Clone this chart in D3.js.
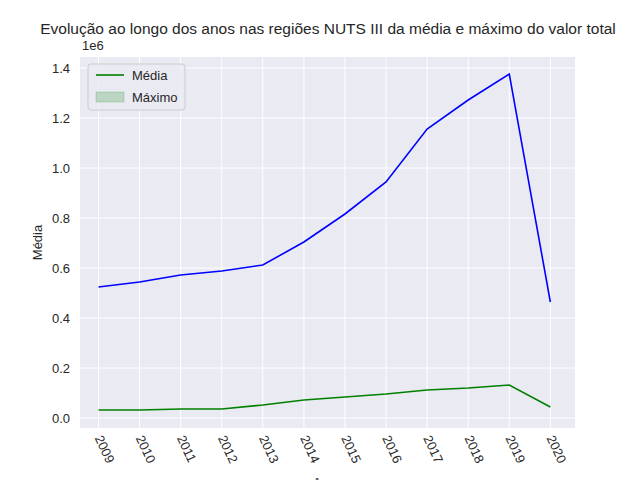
<!DOCTYPE html>
<html><head><meta charset="utf-8">
<script src="https://cdn.jsdelivr.net/npm/d3@7"></script>
<style>body{margin:0;background:#fff}text{font-family:"Liberation Sans",Arial,sans-serif;fill:#262626}</style>
</head><body><div id="chart"></div>
<script>
var anos = [2009,2010,2011,2012,2013,2014,2015,2016,2017,2018,2019,2020];
var maximo = [0.524,0.544,0.572,0.588,0.612,0.704,0.816,0.944,1.156,1.272,1.376,0.464];
var media = [0.032,0.032,0.036,0.036,0.052,0.072,0.084,0.096,0.112,0.120,0.132,0.044];
var yTicks = [0,0.2,0.4,0.6,0.8,1.0,1.2,1.4];

var w = 640, h = 480;
var m = {l: 80, r: 65, t: 57, b: 52};
var svg = d3.select("#chart").append("svg").attr("width", w).attr("height", h);

var x = d3.scaleLinear().domain([2008.55, 2020.6]).range([m.l, w - m.r]);
var y = d3.scaleLinear().domain([-0.04, 1.444]).range([h - m.b, m.t]);

svg.append("rect").attr("x", m.l).attr("y", m.t)
  .attr("width", w - m.l - m.r).attr("height", h - m.t - m.b).attr("fill", "#eaeaf2");

svg.selectAll(".gx").data(anos).enter().append("line")
  .attr("x1", d => x(d)).attr("x2", d => x(d)).attr("y1", m.t).attr("y2", h - m.b)
  .attr("stroke", "#fff");
svg.selectAll(".gy").data(yTicks).enter().append("line")
  .attr("y1", d => y(d)).attr("y2", d => y(d)).attr("x1", m.l).attr("x2", w - m.r)
  .attr("stroke", "#fff");

svg.selectAll(".yl").data(yTicks).enter().append("text")
  .attr("x", m.l - 10).attr("y", d => y(d)).attr("dy", "0.35em")
  .attr("text-anchor", "end").style("font-size", "13px").text(d => d.toFixed(1));

svg.selectAll(".xl").data(anos).enter().append("text")
  .attr("transform", d => "translate(" + (x(d) - 4) + "," + (h - m.b + 10) + ") rotate(65)")
  .style("font-size", "13px").text(d => d);

svg.append("text").attr("x", m.l + 2).attr("y", m.t - 7).style("font-size", "13px").text("1e6");
svg.append("text").attr("transform", "translate(42," + ((m.t + h - m.b) / 2) + ") rotate(-90)")
  .attr("text-anchor", "middle").style("font-size", "13px").text("Média");
svg.append("text").attr("x", (m.l + w - m.r) / 2).attr("y", 487).attr("text-anchor", "middle")
  .style("font-size", "13px").text("Anos");
svg.append("text").attr("x", 328).attr("y", 34).attr("text-anchor", "middle")
  .style("font-size", "15.5px").text("Evolução ao longo dos anos nas regiões NUTS III da média e máximo do valor total");

var line = d3.line().x((d, i) => x(anos[i])).y(d => y(d));
svg.append("path").datum(maximo).attr("d", line).attr("fill", "none").attr("stroke", "blue").attr("stroke-width", 1.6);
svg.append("path").datum(media).attr("d", line).attr("fill", "none").attr("stroke", "green").attr("stroke-width", 1.6);

var lg = svg.append("g").attr("transform", "translate(88,64)");
lg.append("rect").attr("width", 97).attr("height", 46).attr("rx", 3)
  .attr("fill", "#eaeaf2").attr("fill-opacity", 0.8).attr("stroke", "#ccc");
lg.append("line").attr("x1", 8).attr("x2", 36).attr("y1", 11).attr("y2", 11).attr("stroke", "green").attr("stroke-width", 1.6);
lg.append("rect").attr("x", 8).attr("y", 28).attr("width", 28).attr("height", 10)
  .attr("fill", "green").attr("fill-opacity", 0.2).attr("stroke", "green").attr("stroke-opacity", 0.2);
lg.append("text").attr("x", 44).attr("y", 16).style("font-size", "13px").text("Média");
lg.append("text").attr("x", 44).attr("y", 38).style("font-size", "13px").text("Máximo");
</script></body></html>
